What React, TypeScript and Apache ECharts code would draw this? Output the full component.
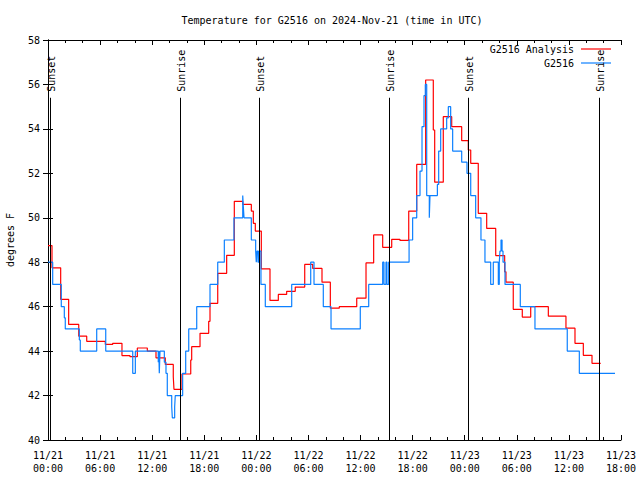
import React, { useEffect, useRef } from "react";
import * as echarts from "echarts";

// hours since 2024-11-21 00:00 UTC
const analysisHours = [0, 0.46, 1.46, 2.38, 3.54, 4.46, 6.6, 7.45, 8.52, 9.44, 10.29, 11.44, 12.44, 13.51, 14.43, 14.51, 15.43, 16.44, 16.55, 17.51, 18.51, 18.66, 19.55, 20.58, 21.46, 22.43, 23.42, 23.65, 23.88, 24.57, 25.57, 26.53, 27.49, 28.48, 29.57, 30.49, 31.56, 32.52, 33.55, 35.56, 36.63, 37.51, 38.55, 39.59, 40.54, 41.55, 42.47, 43.5, 44.38, 44.54, 45.53, 46.5, 47.65, 48.41, 48.69, 49.56, 50.53, 51.57, 52.6, 52.75, 53.59, 54.63, 55.6, 57.63, 59.66, 60.7, 61.66, 62.66, 63.66];
const analysisTemps = [48.75, 47.75, 46.33, 45.2, 44.67, 44.44, 44.3, 44.35, 43.8, 43.75, 44.14, 44.0, 43.7, 43.4, 42.85, 42.28, 42.97, 43.6, 44.2, 44.8, 45.34, 46.15, 47.5, 48.31, 50.74, 50.6, 50.3, 49.75, 49.4, 47.7, 46.28, 46.55, 46.69, 46.88, 47.9, 47.72, 47.1, 45.93, 46.0, 46.38, 47.97, 49.23, 48.67, 49.03, 48.98, 50.3, 52.4, 56.2, 53.95, 51.6, 54.55, 54.1, 53.47, 53.05, 52.45, 50.2, 49.52, 48.3, 47.57, 47.1, 45.88, 45.53, 46.0, 45.57, 45.03, 44.35, 43.81, 43.45, 43.45];

const obsHours = [0, 0.54, 1.53, 1.88, 1.99, 3.61, 3.72, 5.61, 6.65, 9.76, 10.06, 12.7, 12.76, 12.82, 12.9, 13.4, 13.59, 13.74, 14.25, 14.32, 14.59, 14.66, 15.51, 15.86, 16.21, 17.13, 18.66, 19.55, 20.31, 21.42, 22.43, 22.5, 22.58, 23.42, 23.92, 23.99, 24.07, 24.19, 24.3, 24.53, 25.03, 28.07, 30.26, 30.64, 31.71, 32.6, 35.97, 36.94, 38.55, 38.7, 38.93, 39.04, 39.24, 41.59, 42.0, 42.47, 42.85, 43.08, 43.31, 43.46, 43.62, 43.92, 44.0, 44.85, 45.0, 45.23, 45.92, 46.11, 46.38, 46.61, 47.65, 48.26, 48.69, 49.26, 49.87, 50.33, 50.99, 51.29, 51.87, 51.98, 52.06, 52.18, 52.3, 52.41, 52.64, 54.4, 56.09, 59.81, 61.2, 65.31];
const obsTemps = [48.0, 47.0, 46.0, 45.5, 45.0, 44.5, 44.0, 45.0, 44.0, 43.0, 44.0, 43.5, 44.0, 43.0, 44.0, 43.5, 43.0, 42.0, 41.5, 41.0, 41.5, 42.0, 43.0, 44.0, 45.0, 46.0, 47.0, 48.0, 49.0, 50.0, 51.0, 50.5, 50.0, 49.0, 48.5, 48.0, 48.5, 48.0, 48.5, 47.0, 46.0, 47.0, 48.0, 47.0, 46.0, 45.0, 46.0, 47.0, 48.0, 47.0, 48.0, 47.0, 48.0, 49.0, 50.0, 51.0, 52.1, 54.1, 55.5, 56.0, 51.0, 50.0, 51.0, 51.5, 53.0, 54.0, 54.5, 55.0, 54.0, 53.0, 52.5, 52.0, 51.0, 50.0, 49.0, 48.0, 47.0, 48.0, 47.0, 48.0, 48.5, 49.0, 48.5, 48.0, 47.0, 46.0, 45.0, 44.0, 43.0, 43.0];

const sunHours = [0.26, 15.24, 24.34, 39.31, 48.41, 63.5];
const sunLabels = ["Sunset", "Sunrise", "Sunset", "Sunrise", "Sunset", "Sunrise"];

const seriesNames = ["G2516 Analysis", "G2516"];
const seriesColors = ["#ff0000", "#0c80ff"];

const X_MIN = 0, X_MAX = 66, X_STEP = 6;
const Y_MIN = 40, Y_MAX = 58, Y_STEP = 2;
const SUN_TOP = 55.4;

const FONT = "DejaVu Sans Mono";

function hourLabel(h: number): string {
  const day = 21 + Math.floor(h / 24);
  const hr = Math.round(h % 24);
  return `11/${day}\n${String(hr).padStart(2, "0")}:00`;
}

export default function App() {
  const ref = useRef<HTMLDivElement>(null);
  useEffect(() => {
    if (!ref.current) return;
    const chart = echarts.init(ref.current, null, { renderer: "svg" });
    const axisLine = { show: true, lineStyle: { color: "#000", width: 1 } };
    const xBase = {
      type: "value" as const,
      min: X_MIN,
      max: X_MAX,
      interval: X_STEP,
      splitLine: { show: false },
      axisLine,
      axisTick: { show: true, inside: true, length: 5, lineStyle: { color: "#000" } },
      minorTick: { show: true, splitNumber: 3, length: 3, lineStyle: { color: "#000" } },
    };
    const yBase = {
      type: "value" as const,
      min: Y_MIN,
      max: Y_MAX,
      interval: Y_STEP,
      splitLine: { show: false },
      axisLine,
      axisTick: { show: true, inside: true, length: 5, lineStyle: { color: "#000" } },
    };
    chart.setOption({
      animation: false,
      backgroundColor: "#fff",
      grid: { left: 48, right: 19, top: 40, bottom: 40, containLabel: false, outerBoundsMode: "none" },
      xAxis: [
        {
          ...xBase,
          position: "bottom",
          axisLabel: {
            show: true,
            margin: 9,
            color: "#000",
            fontFamily: FONT,
            fontSize: 10,
            lineHeight: 13,
            formatter: (v: number) => hourLabel(v),
          },
        },
        { ...xBase, position: "top", axisLabel: { show: false } },
      ],
      yAxis: [
        {
          ...yBase,
          position: "left",
          name: "degrees F",
          nameLocation: "middle",
          nameGap: 33,
          nameTextStyle: { color: "#000", fontFamily: FONT, fontSize: 10 },
          axisLabel: { show: true, margin: 8, color: "#000", fontFamily: FONT, fontSize: 10 },
        },
        { ...yBase, position: "right", axisLabel: { show: false } },
      ],
      series: [
        {
          name: seriesNames[0],
          type: "line",
          step: "end",
          showSymbol: false,
          symbol: "none",
          data: analysisHours.map((h, i) => [h, analysisTemps[i]]),
          lineStyle: { color: seriesColors[0], width: 1.2 },
          z: 2,
          markLine: {
            silent: true,
            symbol: ["none", "none"],
            label: { show: false },
            lineStyle: { color: "#000", width: 1, type: "solid" },
            data: sunHours.map((h) => [{ coord: [h, Y_MIN] }, { coord: [h, SUN_TOP] }]),
          },
        },
        {
          name: seriesNames[1],
          type: "line",
          step: "end",
          showSymbol: false,
          symbol: "none",
          data: obsHours.map((h, i) => [h, obsTemps[i]]),
          lineStyle: { color: seriesColors[1], width: 1.2 },
          z: 3,
        },
      ],
    });

    const sunTexts = sunHours.map((h, i) => {
      const p = chart.convertToPixel({ gridIndex: 0 }, [h, SUN_TOP]) as number[];
      return {
        type: "text",
        x: p[0] + 1,
        y: p[1] - 6,
        rotation: Math.PI / 2,
        style: {
          text: sunLabels[i],
          align: "left",
          verticalAlign: "middle",
          fill: "#000",
          font: `10px '${FONT}'`,
        },
      };
    });

    chart.setOption({
      graphic: [
        {
          type: "text",
          x: 332,
          y: 20,
          style: {
            text: "Temperature for G2516 on 2024-Nov-21 (time in UTC)",
            align: "center",
            verticalAlign: "middle",
            fill: "#000",
            font: `10px '${FONT}'`,
          },
        },
        ...seriesNames.flatMap((name, i) => [
          {
            type: "text",
            x: 574,
            y: 49 + i * 14,
            style: { text: name, align: "right", verticalAlign: "middle", fill: "#000", font: `10px '${FONT}'` },
          },
          {
            type: "line",
            shape: { x1: 581, y1: 49 + i * 14, x2: 611, y2: 49 + i * 14 },
            style: { stroke: seriesColors[i], lineWidth: 1.2 },
          },
        ]),
        ...sunTexts,
      ],
    });
    return () => chart.dispose();
  }, []);
  return <div ref={ref} style={{ position: "fixed", left: 0, top: 0, width: 640, height: 480 }} />;
}
